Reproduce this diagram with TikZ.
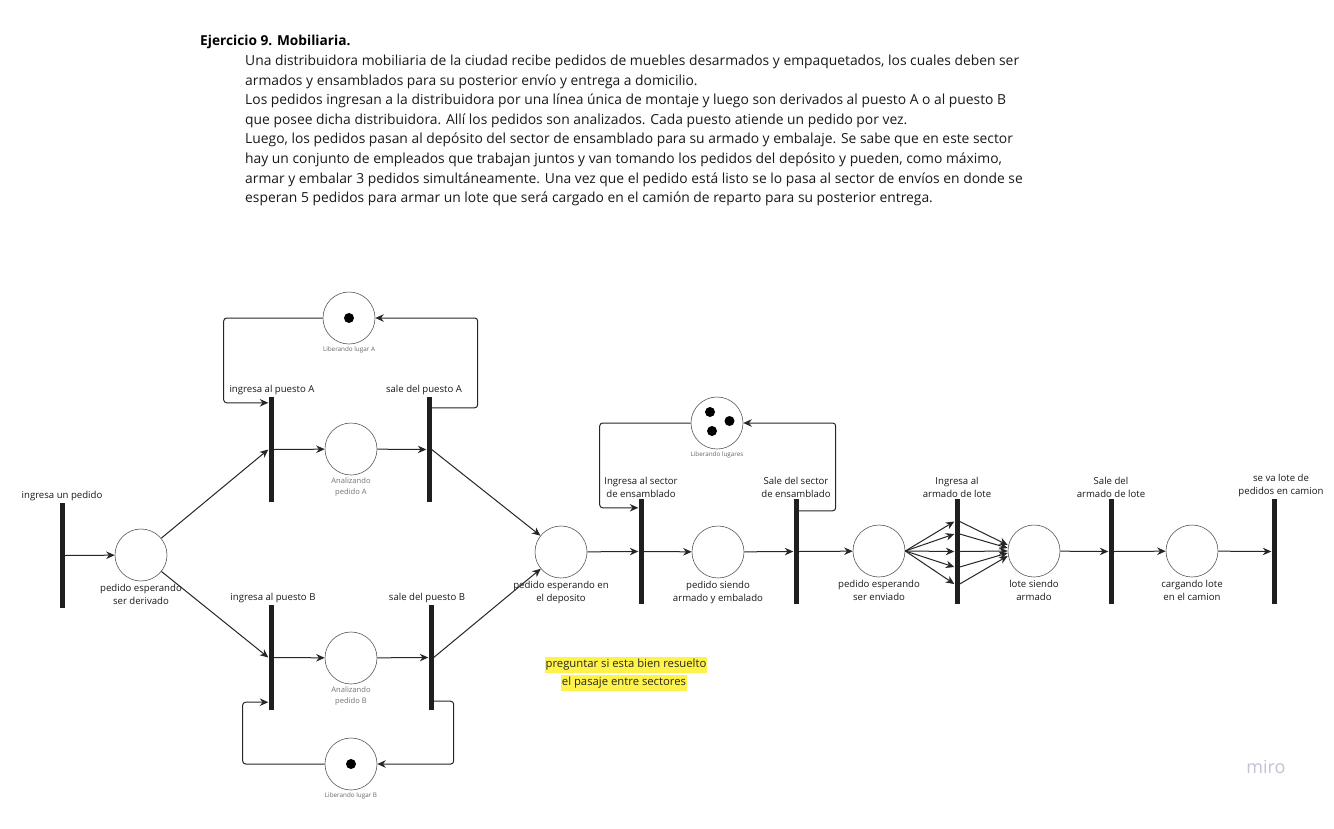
\documentclass[tikz,border=0pt]{standalone}
\usepackage{fontspec}
\setmainfont{Open Sans}
\usetikzlibrary{arrows.meta,calc}
\definecolor{hl}{HTML}{FFF34A}
\definecolor{mirocol}{HTML}{C2C2D8}
\begin{document}
\begin{tikzpicture}[x=1pt,y=-1pt,
  trans/.style={rectangle, fill=black!88, draw=none, minimum width=5pt, minimum height=105pt, inner sep=0pt},
  place/.style={circle, draw=black!65, line width=0.6pt, minimum size=52pt, inner sep=0pt},
  tok/.style={circle, fill=black, minimum size=10pt, inner sep=0pt},
  arc/.style={draw=black!85, line width=1pt, -{Stealth[length=8.5pt,width=7.5pt]}},
  loop/.style={arc, rounded corners=3pt},
  tlbl/.style={font=\fontsize{9.6}{13}\selectfont, align=center, inner sep=1.5pt, text=black!90},
  plbl/.style={tlbl, inner sep=2.5pt},
  glbl/.style={font=\fontsize{7.6}{11}\selectfont, align=center, inner sep=2.5pt, text=black!55},
  slbl/.style={font=\fontsize{6.3}{8}\selectfont, inner sep=2pt, text=black!60},
  note/.style={fill=hl, inner xsep=1pt, inner ysep=2pt, font=\fontsize{11.3}{13}\selectfont, text=black!85},
]
\useasboundingbox[fill=white] (0,0) rectangle (1334,828);

% ---------- statement ----------
\node[anchor=west, inner sep=0pt, font=\fontsize{13.7}{16}\selectfont\bfseries] (title) at (200,42) {Ejercicio 9. Mobiliaria.};
\node[anchor=north west, inner sep=0pt, align=left, font=\fontsize{13.85}{19.55}\selectfont, text=black!90] (body) at (245,55) {%
Una distribuidora mobiliaria de la ciudad recibe pedidos de muebles desarmados y empaquetados, los cuales deben ser\\
armados y ensamblados para su posterior envío y entrega a domicilio.\\
Los pedidos ingresan a la distribuidora por una línea única de montaje y luego son derivados al puesto A o al puesto B\\
que posee dicha distribuidora. Allí los pedidos son analizados. Cada puesto atiende un pedido por vez.\\
Luego, los pedidos pasan al depósito del sector de ensamblado para su armado y embalaje. Se sabe que en este sector\\
hay un conjunto de empleados que trabajan juntos y van tomando los pedidos del depósito y pueden, como máximo,\\
armar y embalar 3 pedidos simultáneamente. Una vez que el pedido está listo se lo pasa al sector de envíos en donde se\\
esperan 5 pedidos para armar un lote que será cargado en el camión de reparto para su posterior entrega.};

% ---------- transitions ----------
\node[trans, label={[tlbl]above:ingresa un pedido}] (T0) at (62,555.5) {};
\node[trans, label={[tlbl, xshift=1pt]above:ingresa al puesto A}] (TA1) at (271,449.5) {};
\node[trans, label={[tlbl, xshift=-5pt]above:sale del puesto A}] (TA2) at (429,449.5) {};
\node[trans, label={[tlbl, xshift=2pt]above:ingresa al puesto B}] (TB1) at (271,657.5) {};
\node[trans, label={[tlbl, xshift=-4pt]above:sale del puesto B}] (TB2) at (431,657.5) {};
\node[trans, label={[tlbl]above:Ingresa al sector\\de ensamblado}] (TE1) at (641,551.5) {};
\node[trans, label={[tlbl]above:Sale del sector\\de ensamblado}] (TE2) at (796,551.5) {};
\node[trans, label={[tlbl]above:Ingresa al\\armado de lote}] (TL1) at (957,551.5) {};
\node[trans, label={[tlbl]above:Sale del\\armado de lote}] (TL2) at (1111,551.5) {};
\node[trans, label={[tlbl, xshift=7pt]above:se va lote de\\pedidos en camion}] (TF) at (1274,551.5) {};

% ---------- places ----------
\node[place, label={[plbl]below:pedido esperando\\ser derivado}] (P1) at (141,555) {};
\node[place, label={[glbl]below:Analizando\\pedido A}] (PA) at (351,449) {};
\node[place, label={[slbl]below:Liberando lugar A}] (LA) at (349,318) {};
\node[place, label={[glbl]below:Analizando\\pedido B}] (PB) at (351,658) {};
\node[place, label={[slbl]below:Liberando lugar B}] (LB) at (351,764) {};
\node[place, label={[plbl]below:pedido esperando en\\el deposito}] (PD) at (561,552) {};
\node[place, label={[plbl]below:pedido siendo\\armado y embalado}] (PE) at (718,552) {};
\node[place, label={[slbl]below:Liberando lugares}] (LL) at (717,423) {};
\node[place, label={[plbl]below:pedido esperando\\ser enviado}] (PV) at (879,551) {};
\node[place, label={[plbl]below:lote siendo\\armado}] (PL) at (1034,551) {};
\node[place, label={[plbl]below:cargando lote\\en el camion}] (PC) at (1192,551) {};

% ---------- tokens ----------
\node[tok] (kA) at (LA) {};
\node[tok] (kB) at (LB) {};
\node[tok] (k1) at (710,412) {};
\node[tok] (k2) at (729.5,421) {};
\node[tok] (k3) at (712,431) {};

% ---------- arcs ----------
\draw[arc] (T0.east) -- (P1);
\draw[arc] (P1) -- (TA1.west);
\draw[arc] (P1) -- (TB1.west);
\draw[arc] (TA1.east) -- (PA);
\draw[arc] (PA) -- (TA2.west);
\draw[arc] (TB1.east) -- (PB);
\draw[arc] (PB) -- (TB2.west);
\draw[arc] (TA2.east) -- (PD);
\draw[arc] (TB2.east) -- (PD);
\draw[loop] ([yshift=-11pt]TA2.north east) -- ++(46,0) |- (LA.east);
\draw[loop] (LA.west) -- ++(-99,0) |- ([yshift=-6pt]TA1.north west);
\draw[loop] ([yshift=9pt]TB2.south east) -- ++(20,0) |- (LB.east);
\draw[loop] (LB.west) -- ++(-82,0) |- ([yshift=8pt]TB1.south west);
\draw[arc] (PD) -- (TE1.west);
\draw[arc] (TE1.east) -- (PE);
\draw[arc] (PE) -- (TE2.west);
\draw[arc] (TE2.east) -- (PV);
\draw[loop] ([yshift=-12pt]TE2.north east) -- ++(37,0) |- (LL.east);
\draw[loop] (LL.west) -- ++(-91,0) |- ([yshift=-9pt]TE1.north west);
\foreach \s/\e in {30/6, 17.5/3, 0/0, -15.5/-2, -32.5/-5} {
  \draw[arc] (PV.east) -- ([yshift=\s pt]TL1.west);
  \draw[arc] ([yshift=\s pt]TL1.east) -- ([yshift=\e pt]PL.west);
}
\draw[arc] (PL) -- (TL2.west);
\draw[arc] (TL2.east) -- (PC);
\draw[arc] (PC) -- (TF.west);

% ---------- note ----------
\node[note] (n1) at (626,665) {preguntar si esta bien resuelto};
\node[note] (n2) at (624,683) {el pasaje entre sectores};

% ---------- watermark ----------
\node[font=\fontsize{18}{20}\selectfont, text=mirocol] (miro) at (1266,767) {miro};
\end{tikzpicture}
\end{document}
